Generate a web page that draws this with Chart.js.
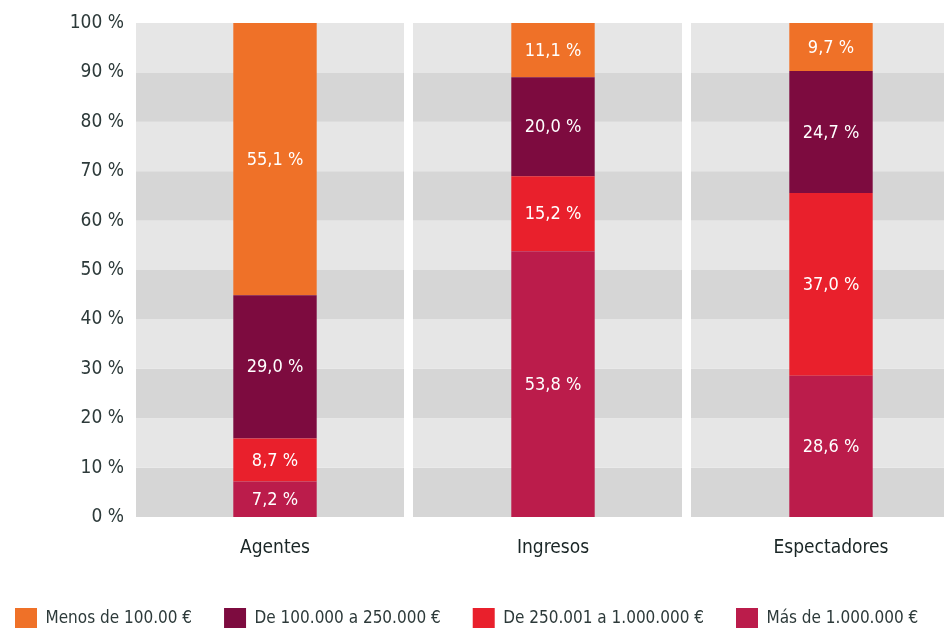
<!DOCTYPE html>
<html>
<head>
<meta charset="utf-8">
<script src="https://cdn.jsdelivr.net/npm/chart.js@4"></script>
<style>
  html, body { margin: 0; padding: 0; background: #fff; overflow: hidden; }
  #wrap { width: 970px; height: 628px; position: relative; }
</style>
</head>
<body>
<div id="wrap"><canvas id="chart"></canvas></div>
<script>
const categories = ['Agentes', 'Ingresos', 'Espectadores'];
const seriesNames = ['Más de 1.000.000 €', 'De 250.001 a 1.000.000 €', 'De 100.000 a 250.000 €', 'Menos de 100.00 €'];
const masDe1M = [7.2, 53.8, 28.6];
const de250a1M = [8.7, 15.2, 37.0];
const de100a250 = [29.0, 20.0, 24.7];
const menosDe100 = [55.1, 11.1, 9.7];
const yTicks = [0, 10, 20, 30, 40, 50, 60, 70, 80, 90, 100];
const colors = ['#bb1c4b', '#e9202c', '#7d0b3f', '#ef7128'];

const font = "'DejaVu Sans Condensed', 'DejaVu Sans', sans-serif";

const bandsPlugin = {
  id: 'bands',
  beforeDatasetsDraw(chart) {
    const {ctx, chartArea, scales} = chart;
    const y = scales.y, x = scales.x;
    ctx.save();
    for (let i = 0; i < yTicks.length - 1; i++) {
      const top = y.getPixelForValue(yTicks[i + 1]);
      const bot = y.getPixelForValue(yTicks[i]);
      ctx.fillStyle = (i % 2 === 0) ? '#d6d6d6' : '#e6e6e6';
      ctx.fillRect(chartArea.left, top, chartArea.right - chartArea.left, bot - top);
    }
    // white gaps between the category panels
    ctx.fillStyle = '#ffffff';
    for (let i = 0; i < categories.length - 1; i++) {
      const mid = (x.getPixelForValue(i) + x.getPixelForValue(i + 1)) / 2 - 5;
      ctx.fillRect(mid - 5, chartArea.top, 9, chartArea.bottom - chartArea.top);
    }
    ctx.restore();
  }
};

const labelsPlugin = {
  id: 'segLabels',
  afterDatasetsDraw(chart) {
    const {ctx} = chart;
    ctx.save();
    ctx.fillStyle = '#ffffff';
    ctx.font = '18px ' + font;
    ctx.textAlign = 'center';
    ctx.textBaseline = 'middle';
    chart.data.datasets.forEach((ds, di) => {
      chart.getDatasetMeta(di).data.forEach((bar, i) => {
        const v = ds.data[i];
        const txt = v.toFixed(1).replace('.', ',') + ' %';
        ctx.fillText(txt, bar.x, (bar.y + bar.base) / 2 + 1);
      });
    });
    ctx.restore();
  }
};

// the canvas is a bit wider than the page (right side is cropped), pull legend back
const legendShift = {
  id: 'legendShift',
  afterLayout(chart) {
    const lg = chart.legend;
    lg.left -= 17; lg.right -= 17;
    lg.top += 12; lg.bottom += 12;
  }
};

const seriesData = [masDe1M, de250a1M, de100a250, menosDe100];

new Chart(document.getElementById('chart'), {
  type: 'bar',
  data: {
    labels: categories,
    datasets: seriesNames.map((name, i) => ({
      label: name,
      data: seriesData[i],
      backgroundColor: colors[i],
      borderWidth: 0,
      barPercentage: 0.3,
      categoryPercentage: 1.0
    }))
  },
  options: {
    responsive: true,
    maintainAspectRatio: false,
    animation: false,
    layout: { padding: { top: 23, right: 0, left: 0, bottom: 0 } },
    scales: {
      x: {
        stacked: true,
        grid: { display: false },
        border: { display: false },
        afterFit(axis) { axis.height = 47; },
        ticks: { color: '#1a2626', font: { family: font, size: 19 }, padding: 12 }
      },
      y: {
        stacked: true,
        min: 0,
        max: 100,
        grid: { display: false },
        border: { display: false },
        afterBuildTicks(axis) { axis.ticks = yTicks.map(v => ({value: v})); },
        afterFit(axis) { axis.width = 136; },
        ticks: {
          color: '#2d3a3a',
          font: { family: font, size: 19 },
          padding: 4,
          callback: v => v + ' %'
        }
      }
    },
    plugins: {
      legend: {
        position: 'bottom',
        align: 'start',
        reverse: true,
        labels: {
          color: '#2d3a3a',
          font: { family: font, size: 17 },
          boxWidth: 22,
          boxHeight: 22,
          padding: 32
        }
      },
      tooltip: { enabled: false }
    }
  },
  plugins: [bandsPlugin, labelsPlugin, legendShift]
});
</script>
</body>
</html>
